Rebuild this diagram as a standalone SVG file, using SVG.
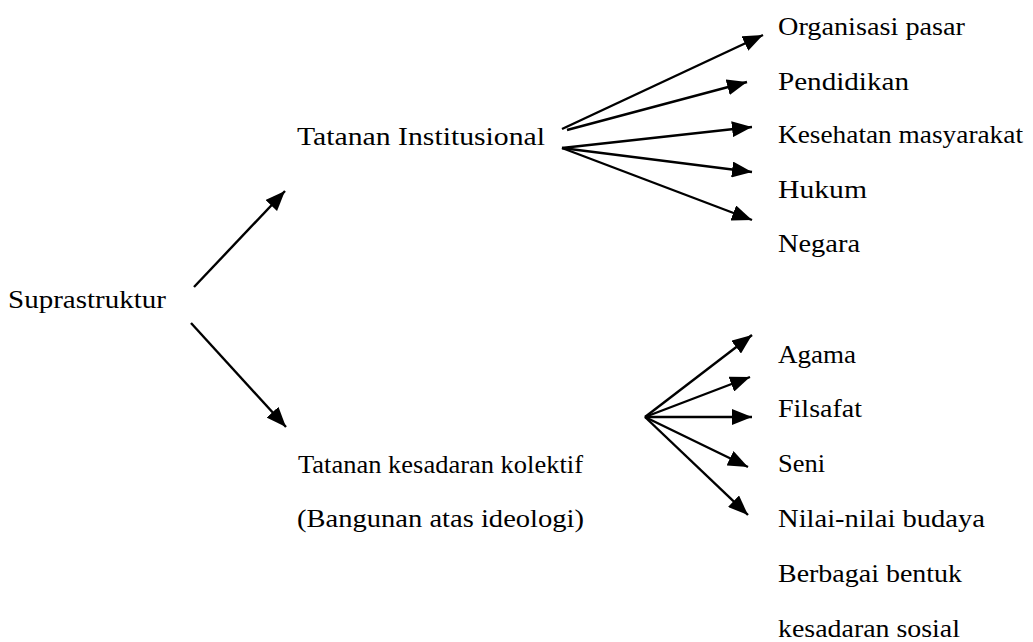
<svg xmlns="http://www.w3.org/2000/svg" width="1033" height="642" viewBox="0 0 1033 642">
<style>
text{font-family:'Liberation Serif','Times New Roman',serif;font-size:26px;fill:#000}
.c line{stroke:#000;stroke-width:2.4;fill:none}
</style>
<defs>
<marker id="a" viewBox="0 0 20 16" refX="20" refY="8" markerWidth="20" markerHeight="16" markerUnits="userSpaceOnUse" orient="auto">
<path d="M0,0 L20,8 L0,16 z" fill="#000"/>
</marker>
</defs>
<rect width="1033" height="642" fill="#fff"/>
<g id="n-supra"><text x="8" y="308" textLength="158" lengthAdjust="spacingAndGlyphs">Suprastruktur</text></g>
<g id="n-inst"><text x="297" y="145" textLength="248" lengthAdjust="spacingAndGlyphs">Tatanan Institusional</text></g>
<g id="n-kolektif"><text x="298" y="473" textLength="285" lengthAdjust="spacingAndGlyphs">Tatanan kesadaran kolektif</text><text x="297" y="527" textLength="287" lengthAdjust="spacingAndGlyphs">(Bangunan atas ideologi)</text></g>
<g id="n-org"><text x="778" y="35" textLength="187" lengthAdjust="spacingAndGlyphs">Organisasi pasar</text></g>
<g id="n-pend"><text x="778" y="90" textLength="131" lengthAdjust="spacingAndGlyphs">Pendidikan</text></g>
<g id="n-kes"><text x="778" y="143" textLength="245" lengthAdjust="spacingAndGlyphs">Kesehatan masyarakat</text></g>
<g id="n-hukum"><text x="778" y="198" textLength="89" lengthAdjust="spacingAndGlyphs">Hukum</text></g>
<g id="n-negara"><text x="778" y="252" textLength="82" lengthAdjust="spacingAndGlyphs">Negara</text></g>
<g id="n-agama"><text x="778" y="363" textLength="78" lengthAdjust="spacingAndGlyphs">Agama</text></g>
<g id="n-filsafat"><text x="778" y="417" textLength="84" lengthAdjust="spacingAndGlyphs">Filsafat</text></g>
<g id="n-seni"><text x="778" y="472" textLength="47" lengthAdjust="spacingAndGlyphs">Seni</text></g>
<g id="n-nilai"><text x="778" y="527" textLength="207" lengthAdjust="spacingAndGlyphs">Nilai-nilai budaya</text></g>
<g id="n-berbagai"><text x="778" y="582" textLength="184" lengthAdjust="spacingAndGlyphs">Berbagai bentuk</text><text x="778" y="637" textLength="182" lengthAdjust="spacingAndGlyphs">kesadaran sosial</text></g>
<g id="connectors" class="c">
<line x1="194" y1="287" x2="285" y2="191" marker-end="url(#a)"/>
<line x1="191" y1="323" x2="286" y2="427" marker-end="url(#a)"/>
<line x1="562" y1="129" x2="763" y2="35" marker-end="url(#a)"/>
<line x1="567" y1="130" x2="747" y2="82" marker-end="url(#a)"/>
<line x1="562" y1="148" x2="752" y2="127" marker-end="url(#a)"/>
<line x1="562" y1="148" x2="752" y2="172" marker-end="url(#a)"/>
<line x1="562" y1="148" x2="752" y2="220" marker-end="url(#a)"/>
<line x1="645" y1="417" x2="752" y2="335" marker-end="url(#a)"/>
<line x1="645" y1="417" x2="750" y2="377" marker-end="url(#a)"/>
<line x1="645" y1="417" x2="752" y2="417" marker-end="url(#a)"/>
<line x1="645" y1="417" x2="748" y2="467" marker-end="url(#a)"/>
<line x1="645" y1="417" x2="748" y2="515" marker-end="url(#a)"/>
</g>
</svg>
